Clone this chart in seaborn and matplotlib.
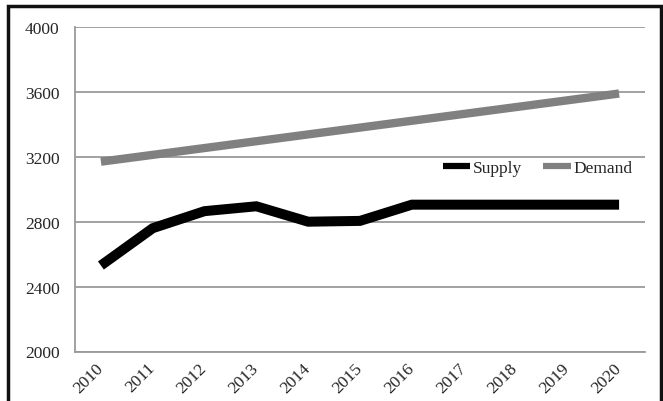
import matplotlib
matplotlib.use("Agg")
import matplotlib.pyplot as plt
import seaborn as sns
import pandas as pd
from matplotlib.patches import Rectangle

# data
years = ["2010", "2011", "2012", "2013", "2014", "2015", "2016", "2017", "2018", "2019", "2020"]
supply = [2530, 2760, 2865, 2895, 2800, 2805, 2905, 2905, 2905, 2905, 2905]
demand = [3170, 3212, 3254, 3296, 3338, 3380, 3422, 3464, 3506, 3548, 3590]
y_ticks = [2000, 2400, 2800, 3200, 3600, 4000]

sns.set_style("white")
plt.rcParams['font.family'] = ['Liberation Serif', 'DejaVu Serif']

df = pd.DataFrame({"pos": range(len(years)), "Supply": supply, "Demand": demand})

fig = plt.figure(figsize=(6.63, 4.02), dpi=100)
ax = fig.add_axes([75 / 663, 1 - 352.5 / 402, 570 / 663, 324.5 / 402])

grid_col = "#9a9a9a"
for y in y_ticks:
    ax.axhline(y, color=grid_col, lw=1.3, zorder=0)

sns.lineplot(data=df, x="pos", y="Supply", color="black", lw=7.2, ax=ax,
             label="Supply", solid_capstyle="butt", solid_joinstyle="miter")
sns.lineplot(data=df, x="pos", y="Demand", color="#808080", lw=6.0, ax=ax,
             label="Demand", solid_capstyle="butt")

ax.set_xlim(-0.5, len(years) - 0.5)
ax.set_ylim(2000, 4000)
ax.set_yticks(y_ticks)
ax.set_yticklabels([str(v) for v in y_ticks], fontsize=12.5)
ax.set_xticks(range(len(years)))
ax.set_xticklabels(years, fontsize=12.5, rotation=45, ha="right", va="center",
                   rotation_mode="anchor")
ax.set_xticks([i - 0.5 for i in range(len(years) + 1)], minor=True)
ax.tick_params(axis="x", which="major", length=0, pad=10)
ax.tick_params(axis="x", which="minor", length=5, width=1.3, color=grid_col, direction="out")
ax.tick_params(axis="y", length=5, width=1.3, color=grid_col, direction="out", pad=6)
ax.set_xlabel("")
ax.set_ylabel("")

for side in ["top", "right"]:
    ax.spines[side].set_visible(False)
for side in ["left", "bottom"]:
    ax.spines[side].set_color(grid_col)
    ax.spines[side].set_linewidth(1.3)

leg = ax.legend(loc="center", bbox_to_anchor=(0.8107, 1 - 169 / 402),
                bbox_transform=fig.transFigure, ncol=2, frameon=False,
                fontsize=12.5, handlelength=1.6, handletextpad=0.15,
                columnspacing=1.2, borderpad=0)
for line in leg.get_lines():
    line.set_linewidth(4.5)
    line.set_solid_capstyle("butt")

# black frame around the picture (bottom edge falls off the canvas)
fig.patches.append(Rectangle((8 / 663, -0.1), 653 / 663, 1.1 - 7 / 402,
                             transform=fig.transFigure, fill=False,
                             edgecolor="#111111", lw=2.5))

fig.savefig("out.png", dpi=100)
